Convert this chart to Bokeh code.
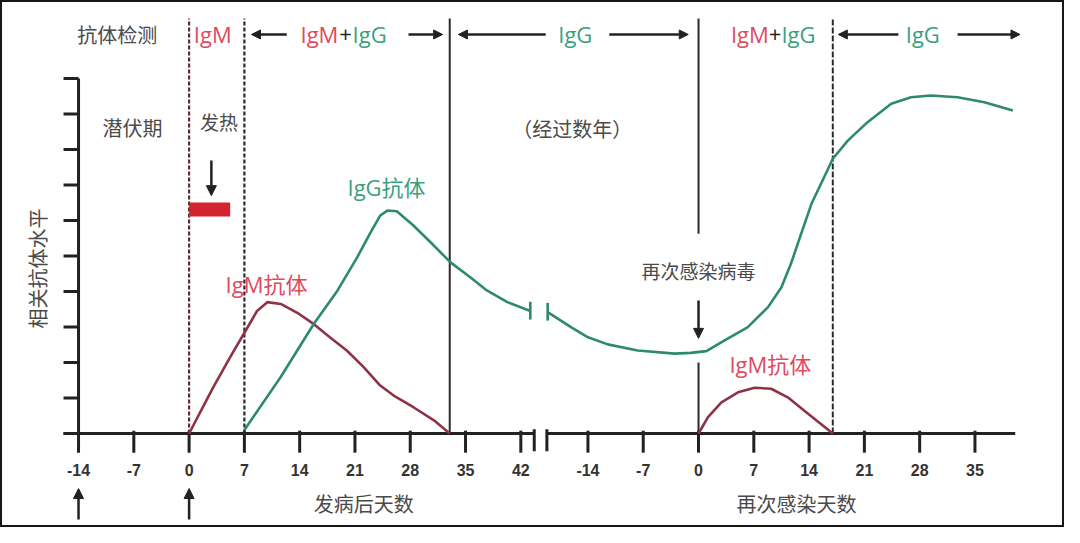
import math
from bokeh.plotting import figure
from bokeh.models import ColumnDataSource, Range1d, Arrow, NormalHead
from bokeh.core.properties import value
from bokeh.embed import file_html
from bokeh.resources import INLINE

# ---------------- data ----------------
GAP = 64.5  # plotting offset of the re-infection time segment ("years later")

first_ticks = [-14, -7, 0, 7, 14, 21, 28, 35, 42]
second_ticks = [-14, -7, 0, 7, 14, 21, 28, 35]
level_ticks = [0, 1, 2, 3, 4, 5, 6, 7, 8, 9, 10]

# first infection (days after onset)
igm1_day = [0, 3, 5.2, 7.3, 8.6, 9.9, 11.6, 13.7, 15.8, 17.9, 20, 22.1, 24.2, 25.9, 28.4, 31, 33]
igm1_val = [0, 1.28, 2.15, 2.95, 3.45, 3.7, 3.65, 3.4, 3.08, 2.7, 2.33, 1.87, 1.35, 1.07, 0.74, 0.37, 0]

igg1_day = [7, 11.6, 15.8, 18.8, 21.3, 23, 24.2, 25.1, 26.3, 28.4, 30.6, 33.1, 35.6, 37.7, 40.3, 43.2]
igg1_val = [0.1, 1.59, 3.09, 4.03, 4.97, 5.67, 6.14, 6.28, 6.26, 5.86, 5.38, 4.82, 4.40, 4.03, 3.70, 3.45]

# re-infection (days after re-infection)
igg2_day = [-19.1, -16.1, -14, -11.5, -7.7, -3, -1, 1, 3.3, 6.2, 8.8, 10.5, 11.7, 13, 14.3,
            15.9, 17, 18.9, 21.4, 24.4, 26.9, 29.4, 32.8, 36.2, 39.8]
igg2_val = [3.42, 2.99, 2.71, 2.51, 2.34, 2.25, 2.27, 2.32, 2.62, 2.99, 3.56, 4.12, 4.78, 5.63, 6.47,
            7.22, 7.74, 8.25, 8.77, 9.29, 9.47, 9.52, 9.47, 9.33, 9.10]

igm2_day = [0, 1.2, 2.9, 5, 7.1, 9.2, 11.3, 13.4, 15.5, 17]
igm2_val = [0, 0.46, 0.88, 1.16, 1.29, 1.26, 1.02, 0.64, 0.27, 0]

first_bounds = [0, 7, 33]   # onset, IgG appears, IgM gone
second_bounds = [0, 17]     # re-infection, IgM gone
fever_days = [0, 5.2]

# ---------------- styles ----------------
RED = "#de4a60"
GREEN = "#3b9f7e"
IGM_LINE = "#8c3446"
IGG_LINE = "#2e8a6c"
INK = "#222222"
GRAY = "#4a4a4a"
CJK = "Noto Sans CJK SC"
LAT = "Open Sans, Noto Sans CJK SC"

S = 7.898          # pixels per day
PX_Y = 35.5        # pixels per level unit
W, H = 1064, 527
X0, Y0 = 188.6, 433  # pixel position of day 0 / level 0

p = figure(width=W, height=H, output_backend="svg", toolbar_location=None,
           x_axis_location=None, y_axis_location=None,
           x_range=Range1d(-X0 / S, (W - X0) / S),
           y_range=Range1d(-(H - Y0) / PX_Y, Y0 / PX_Y),
           min_border=0)
p.xgrid.visible = False
p.ygrid.visible = False
p.outline_line_color = "#161616"
p.outline_line_width = 3
p.background_fill_color = "white"
p.border_fill_color = "white"

# ---- level axis (left) ----
yx = first_ticks[0]
tick_w = 15 / S
p.segment(x0=[yx], x1=[yx], y0=[level_ticks[0]], y1=[level_ticks[-1]],
          line_color=INK, line_width=3)
p.segment(x0=[yx - tick_w] * len(level_ticks), x1=[yx] * len(level_ticks),
          y0=level_ticks, y1=level_ticks, line_color=INK, line_width=3)
p.text(x=[yx - 41 / S], y=[4.65], text=["相关抗体水平"], angle=math.pi / 2,
       text_align="center", text_baseline="middle", text_font=value(CJK),
       text_font_size="20px", text_color=GRAY)

# ---- broken time axis ----
break_l = max(first_ticks) + 1.7
break_r = GAP + min(second_ticks) - 5.2
ax_end = GAP + max(second_ticks) + 5.1
xticks = first_ticks + [d + GAP for d in second_ticks]
xlabels = [str(d) for d in first_ticks] + [str(d) for d in second_ticks]

p.segment(x0=[yx - tick_w, break_r], x1=[break_l, ax_end], y0=[0, 0], y1=[0, 0],
          line_color=INK, line_width=3)
p.segment(x0=xticks, x1=xticks, y0=[0.08] * len(xticks), y1=[-0.54] * len(xticks),
          line_color=INK, line_width=3)
p.segment(x0=[break_l, break_r], x1=[break_l, break_r], y0=[0.12, 0.12],
          y1=[-0.5, -0.5], line_color=INK, line_width=3)
p.text(x=xticks, y=[-1.04] * len(xticks), text=xlabels, text_align="center",
       text_baseline="middle", text_font=value("Liberation Sans"),
       text_font_style="bold", text_font_size="16px", text_color="#333333")

# ---- phase boundary lines ----
TOP = 11.69
p.segment(x0=[first_bounds[0]], x1=[first_bounds[0]], y0=[0], y1=[TOP],
          line_color="#5a2a35", line_width=2.2, line_dash="4 2")
p.segment(x0=[first_bounds[1]], x1=[first_bounds[1]], y0=[0], y1=[TOP],
          line_color="#2a2a2a", line_width=2.2, line_dash="4 2")
p.segment(x0=[first_bounds[2]], x1=[first_bounds[2]], y0=[0], y1=[TOP],
          line_color="#2a2a2a", line_width=2)
x_re = GAP + second_bounds[0]
p.segment(x0=[x_re, x_re], x1=[x_re, x_re], y0=[TOP, 2.0], y1=[5.63, 0],
          line_color="#2a2a2a", line_width=2)
x_end2 = GAP + second_bounds[1]
p.segment(x0=[x_end2], x1=[x_end2], y0=[0], y1=[TOP],
          line_color="#2a2a2a", line_width=2, line_dash="6 2")

# ---- curves ----
p.line(igm1_day, igm1_val, line_color=IGM_LINE, line_width=2.6)
p.line(igg1_day, igg1_val, line_color=IGG_LINE, line_width=2.6)
p.line([d + GAP for d in igg2_day], igg2_val, line_color=IGG_LINE, line_width=2.6)
p.line([d + GAP for d in igm2_day], igm2_val, line_color=IGM_LINE, line_width=2.6)

# break marks on the IgG curve
bx = [igg1_day[-1], igg2_day[0] + GAP]
by = [igg1_val[-1], igg2_val[0]]
p.segment(x0=bx, x1=bx, y0=[v - 0.24 for v in by], y1=[v + 0.26 for v in by],
          line_color=IGG_LINE, line_width=2.6)

# fever bar
p.quad(left=[fever_days[0]], right=[fever_days[1]], bottom=[6.11], top=[6.51],
       fill_color="#d2232f", line_color=None)

# ---- header ----
HY = 11.24
def txt(x, y, s, color, size="22px", font=LAT, align="center"):
    p.text(x=[x], y=[y], text=[s], text_color=color, text_font=value(font),
           text_font_size=size, text_align=align, text_baseline="middle")

txt(-9.1, HY, "抗体检测", GRAY, size="20px", font=CJK)
txt(3.0, HY, "IgM", RED)
txt(18.9, HY, "IgM", RED, align="right")
txt(19.8, HY, "+", INK)
txt(20.7, HY, "IgG", GREEN, align="left")
txt(48.9, HY, "IgG", GREEN)
txt(GAP + 8.9, HY, "IgM", RED, align="right")
txt(GAP + 9.7, HY, "+", INK)
txt(GAP + 10.5, HY, "IgG", GREEN, align="left")
txt(GAP + 28.4, HY, "IgG", GREEN)

arr = ColumnDataSource(dict(
    xs=[12.37, 27.78, 45.15, 53.2, GAP + 25.3, GAP + 32.8],
    xe=[7.9, 32.1, 34.1, 63.2, GAP + 17.7, GAP + 40.7],
    ys=[HY] * 6, ye=[HY] * 6))
p.add_layout(Arrow(source=arr, x_start="xs", y_start="ys", x_end="xe", y_end="ye",
                   line_color=INK, line_width=2.5,
                   end=NormalHead(size=9, fill_color=INK, line_color=INK)))

# ---- in-plot annotations ----
txt(-7.16, 8.62, "潜伏期", GRAY, size="20px", font=CJK)
txt(3.79, 8.79, "发热", GRAY, size="19px", font=CJK)
txt(48.5, 8.59, "（经过数年）", GRAY, size="20px", font=CJK)
txt(GAP, 4.59, "再次感染病毒", GRAY, size="19px", font=CJK)
txt(25.0, 6.93, "IgG抗体", GREEN)
txt(9.8, 4.2, "IgM抗体", RED)
txt(GAP + 9.1, 1.97, "IgM抗体", RED)

varr = ColumnDataSource(dict(
    xs=[2.82, GAP, first_ticks[0], 0],
    xe=[2.82, GAP, first_ticks[0], 0],
    ys=[7.69, 3.75, -2.42, -2.42],
    ye=[6.70, 2.68, -1.55, -1.55]))
p.add_layout(Arrow(source=varr, x_start="xs", y_start="ys", x_end="xe", y_end="ye",
                   line_color=INK, line_width=2.5,
                   end=NormalHead(size=10, fill_color=INK, line_color=INK)))

# ---- axis titles below the axis ----
txt(22.1, -1.97, "发病后天数", GRAY, size="20px", font=CJK)
txt(GAP + 12.4, -1.97, "再次感染天数", GRAY, size="20px", font=CJK)

open("out.html", "w").write(file_html(p, INLINE))
